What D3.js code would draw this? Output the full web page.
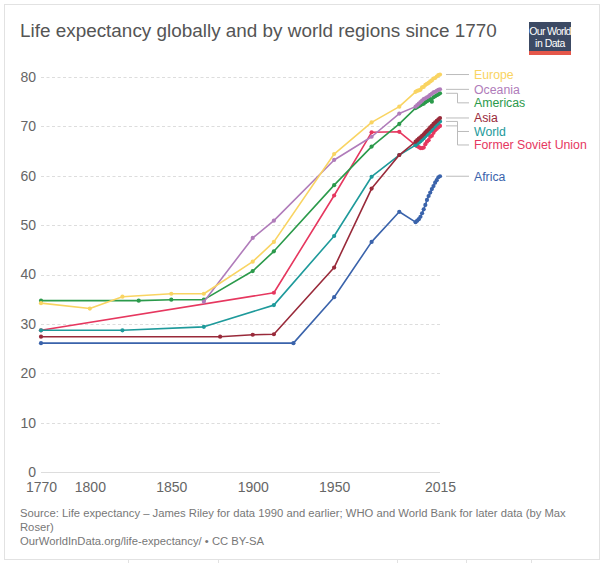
<!DOCTYPE html>
<html>
<head>
<meta charset="utf-8">
<script src="https://cdn.jsdelivr.net/npm/d3@7"></script>
<style>
  html, body { margin: 0; padding: 0; background: #fff; }
  svg { display: block; font-family: "Liberation Sans", Arial, Helvetica, sans-serif; }
</style>
</head>
<body>
<svg id="chart" width="605" height="563"></svg>
<script>
// ---------- DATA ----------
const annualYears = [2000,2001,2002,2003,2004,2005,2006,2007,2008,2009,2010,2011,2012,2013,2014,2015];

const europeYears   = [1770,1800,1820,1850,1870,1900,1913,1950,1973,1990].concat(annualYears);
const europeValues  = [34.2,33.1,35.5,36.1,36.1,42.6,46.6,64.4,70.8,74.0,
                       77.0,77.2,77.3,77.4,77.9,78.0,78.4,78.6,78.8,79.1,79.3,79.7,79.8,80.1,80.4,80.5];

const oceaniaYears  = [1870,1900,1913,1950,1973,1990].concat(annualYears);
const oceaniaValues = [34.5,47.4,50.9,63.2,67.9,72.6,
                       74.0,74.3,74.6,74.9,75.2,75.5,75.7,75.9,76.1,76.4,76.6,76.9,77.0,77.2,77.4,77.5];

const americasYears  = [1770,1830,1850,1870,1900,1913,1950,1973,1990].concat(annualYears);
const americasValues = [34.7,34.7,34.9,34.9,40.7,44.7,58.1,65.9,70.5,
                        73.7,73.9,74.1,74.3,74.5,74.6,74.9,75.1,75.3,75.5,75.0,75.9,76.1,76.3,76.5,76.7];

const asiaYears  = [1770,1880,1900,1913,1950,1973,1990].concat(annualYears);
const asiaValues = [27.4,27.4,27.8,27.9,41.4,57.4,64.2,
                    66.9,67.2,67.5,67.8,68.1,68.4,68.8,69.1,69.4,69.8,70.1,70.5,70.8,71.1,71.4,71.7];

const worldYears  = [1770,1820,1870,1913,1950,1973,1990].concat(annualYears);
const worldValues = [28.7,28.7,29.4,33.8,47.8,59.8,64.2,
                     66.2,66.5,66.7,67.0,67.3,67.6,68.0,68.3,68.6,69.0,69.3,69.7,70.1,70.4,70.7,71.0];

const fsuYears  = [1770,1913,1950,1973,1990].concat(annualYears);
const fsuValues = [28.7,36.3,56.0,68.8,68.9,
                   66.2,66.0,65.8,65.6,65.6,65.7,66.4,66.9,67.2,67.9,68.1,68.7,69.2,69.5,69.8,70.1];

const africaYears  = [1770,1925,1950,1973,1990].concat(annualYears);
const africaValues = [26.1,26.1,35.4,46.6,52.7,
                      50.6,50.9,51.2,51.7,52.4,53.2,54.1,55.1,55.9,56.6,57.3,57.9,58.6,59.1,59.7,59.9];

const seriesNames  = ["Europe","Oceania","Americas","Asia","World","Former Soviet Union","Africa"];
const seriesColors = ["#f9d462","#b07cba","#2b9a4b","#992a3a","#1e9a9b","#e6375f","#3a63ab"];

const xTickValues = [1770,1800,1850,1900,1950,2015];
const yTickValues = [0,10,20,30,40,50,60,70,80];

const titleText = "Life expectancy globally and by world regions since 1770";
const sourceLines = [
  "Source: Life expectancy – James Riley for data 1990 and earlier; WHO and World Bank for later data (by Max",
  "Roser)",
  "OurWorldInData.org/life-expectancy/ • CC BY-SA"
];

// ---------- BUILD ----------
const yearsList  = [europeYears, oceaniaYears, americasYears, asiaYears, worldYears, fsuYears, africaYears];
const valuesList = [europeValues, oceaniaValues, americasValues, asiaValues, worldValues, fsuValues, africaValues];
// draw order (back to front)
const drawOrder = [6,5,4,3,2,1,0];

const series = seriesNames.map((name, i) => ({
  name, color: seriesColors[i],
  points: yearsList[i].map((yr, j) => ({year: yr, value: valuesList[i][j]}))
}));

const svg = d3.select("#chart");

// frame
svg.append("rect").attr("x", 4.5).attr("y", 4.5).attr("width", 595).attr("height", 555)
  .attr("fill", "none").attr("stroke", "#e2e2e2").attr("stroke-width", 1);
[128, 218, 397, 466, 531].forEach(x => {
  svg.append("line").attr("x1", x + 0.5).attr("x2", x + 0.5).attr("y1", 560).attr("y2", 563)
    .attr("stroke", "#e2e2e2");
});

// title
svg.append("text").attr("x", 20).attr("y", 37).attr("font-size", 18.9).attr("fill", "#555")
  .text(titleText);

// logo
const logo = svg.append("g").attr("transform", "translate(529,22)");
logo.append("rect").attr("width", 42).attr("height", 33).attr("fill", "#3c4a64");
logo.append("rect").attr("y", 29).attr("width", 42).attr("height", 4).attr("fill", "#e5574a");
logo.append("text").attr("x", 21).attr("y", 12.5).attr("text-anchor", "middle")
  .attr("font-size", 10.5).attr("fill", "#fff").attr("letter-spacing", -0.7).text("Our World");
logo.append("text").attr("x", 21).attr("y", 24.5).attr("text-anchor", "middle")
  .attr("font-size", 10.5).attr("fill", "#fff").attr("letter-spacing", -0.5).text("in Data");

// scales
const x = d3.scaleLinear().domain([1770, 2015]).range([41, 440]);
const y = d3.scaleLinear().domain([0, 80]).range([472, 77]);

// grid
const grid = svg.append("g");
yTickValues.forEach(v => {
  grid.append("line")
    .attr("x1", x(1770)).attr("x2", x(2015))
    .attr("y1", Math.round(y(v)) + 0.5).attr("y2", Math.round(y(v)) + 0.5)
    .attr("stroke", "#ddd")
    .attr("stroke-width", 1)
    .attr("stroke-dasharray", v === 0 ? null : "3,2.5");
});

// y axis labels
const yAxis = d3.axisLeft(y).tickValues(yTickValues).tickSize(0).tickPadding(5);
const yg = svg.append("g").attr("transform", `translate(${x(1770)},0)`).call(yAxis);
yg.select(".domain").remove();
yg.selectAll("text").attr("font-size", 14).attr("fill", "#666")
  .attr("font-family", "Liberation Sans, Arial, sans-serif");

// x axis labels
const xAxis = d3.axisBottom(x).tickValues(xTickValues).tickSize(0).tickPadding(10).tickFormat(d3.format("d"));
const xg = svg.append("g").attr("transform", `translate(0,${y(0)})`).call(xAxis);
xg.select(".domain").remove();
xg.selectAll("text").attr("font-size", 14).attr("fill", "#666")
  .attr("font-family", "Liberation Sans, Arial, sans-serif");

// lines
const line = d3.line().x(d => x(d.year)).y(d => y(d.value));
const plot = svg.append("g");
drawOrder.forEach(i => {
  const s = series[i];
  const g = plot.append("g");
  g.append("path").datum(s.points).attr("d", line)
    .attr("fill", "none").attr("stroke", s.color).attr("stroke-width", 1.6)
    .attr("stroke-linejoin", "round");
  g.selectAll("circle").data(s.points).join("circle")
    .attr("cx", d => x(d.year)).attr("cy", d => y(d.value)).attr("r", 2.1)
    .attr("fill", s.color);
});

// labels with collision avoidance
const labels = series.map(s => {
  const last = s.points[s.points.length - 1];
  return {name: s.name, color: s.color, dataY: y(last.value), labelY: y(last.value)};
}).sort((a, b) => a.dataY - b.dataY);
const spacing = 13.5;
for (let k = 1; k < labels.length; k++) {
  if (labels[k].labelY < labels[k-1].labelY + spacing) labels[k].labelY = labels[k-1].labelY + spacing;
}
const lg = svg.append("g");
labels.forEach(l => {
  const x0 = 446, xm = 457.5, x1 = 469;
  const moved = Math.abs(l.labelY - l.dataY) > 1.5;
  const path = moved
    ? `M${x0},${l.dataY}H${xm}V${l.labelY}H${x1}`
    : `M${x0},${l.dataY}H${x1}`;
  lg.append("path").attr("d", path).attr("fill", "none").attr("stroke", "#bbb").attr("stroke-width", 1);
  lg.append("text").attr("x", 474).attr("y", moved ? l.labelY : l.dataY).attr("dy", "0.35em")
    .attr("font-size", 12.3).attr("fill", l.color).text(l.name);
});

// source
sourceLines.forEach((t, i) => {
  svg.append("text").attr("x", 20).attr("y", 517 + i * 14).attr("font-size", 11.25).attr("fill", "#777").text(t);
});
</script>
</body>
</html>
